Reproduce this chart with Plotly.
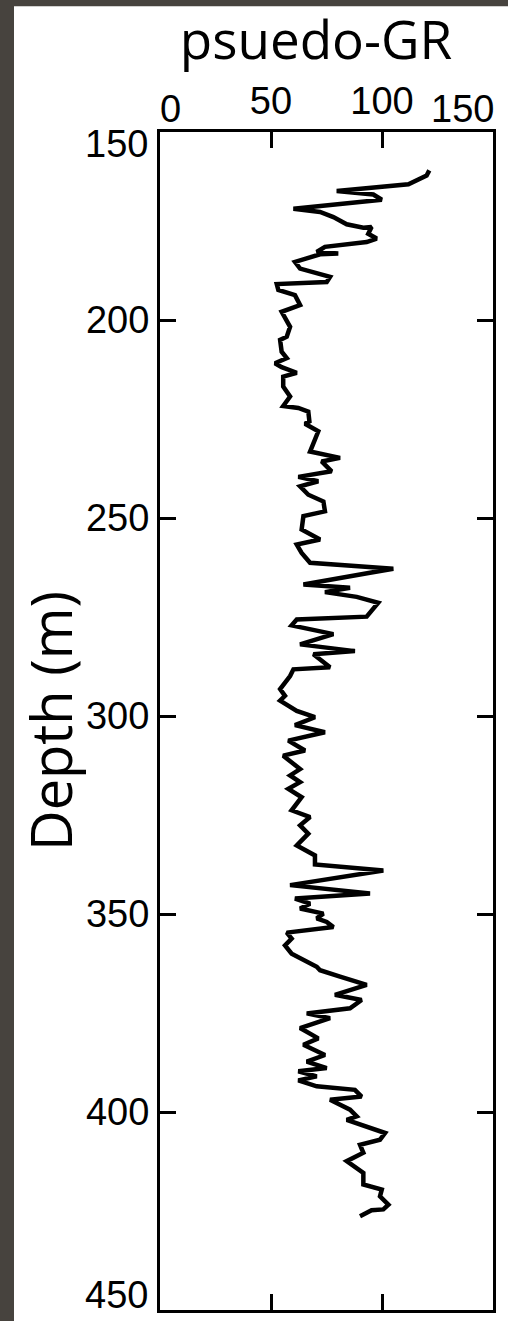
import plotly.graph_objects as go

# ---- data (depth in m, pseudo-GR value) ----
depth = [162.2, 163.5, 165.7, 167.4, 168.3, 169.6, 171.9, 172.7, 174.0, 175.8, 176.7, 176.5,
         178.2, 179.4, 180.3, 181.5, 182.8, 183.2, 183.4, 185.3, 187.0, 189.1, 190.4, 190.9,
         192.4, 193.7, 196.2, 197.9, 201.7, 204.2, 205.0, 208.0, 209.6, 210.9, 211.9, 213.3,
         214.3, 216.8, 219.3, 221.7, 222.2, 223.1, 225.6, 226.2, 228.1, 231.1, 233.2, 234.8,
         235.7, 238.2, 239.6, 240.7, 242.0, 244.1, 245.8, 248.3, 249.5, 252.9,
         255.4, 256.7, 258.8, 261.3, 262.8, 263.8, 266.8, 267.6, 268.7, 269.9, 271.4, 274.9,
         275.6, 277.1, 279.3, 281.9, 283.6, 284.4, 287.7, 288.2, 289.9, 293.2, 294.9, 296.1,
         298.7, 300.3,
         302.3, 304.1, 306.2, 308.7, 310.0, 313.4, 315.0, 316.7, 318.4, 320.5, 323.8, 325.5,
         327.6, 329.7, 332.7, 335.2, 337.5, 339.0, 342.7, 344.8, 346.1, 347.4, 348.6, 349.9,
         351.1,
         352.0, 353.3, 354.7, 356.2, 357.9, 360.0, 363.3, 364.2, 365.8, 367.9, 370.4, 371.7,
         373.8, 375.1, 376.3, 378.8, 381.4, 383.0, 385.6, 387.3, 388.9, 389.7, 391.0, 392.0,
         393.5, 394.4, 396.1, 396.9, 399.4, 401.1,
         402.0, 405.3, 407.0, 408.3, 410.3, 412.4, 415.4, 418.3, 419.6, 421.3, 423.4, 424.6,
         424.8, 426.3]

gr = [121.3, 120.1, 111.9, 79.6, 96.1, 99.9, 60.1, 72.1, 78.1, 84.1, 91.6, 95.3,
      93.8, 97.6, 93.1, 74.3, 70.6, 80.3, 72.1, 60.8, 63.1, 76.6, 75.1, 52.6,
      53.3, 60.8, 63.1, 54.8, 58.6, 57.1, 54.1, 54.8, 57.1, 51.8, 54.8, 61.6,
      55.5, 55.5, 58.6, 55.5, 62.3, 66.8, 67.3, 65.3, 71.3, 69.1, 67.6, 81.1,
      72.8, 77.3, 62.3, 71.3, 63.1, 66.8, 73.6, 74.3, 64.6, 63.8,
      72.1, 61.6, 63.8, 67.6, 105.1, 94.6, 64.6, 85.6, 74.3, 88.6, 98.3, 93.1,
      61.6, 59.3, 78.1, 63.1, 87.8, 69.1, 76.6, 60.1, 58.6, 54.1, 56.3, 54.1,
      61.6, 69.8,
      60.8, 74.3, 57.8, 65.3, 55.5, 63.1, 58.6, 63.1, 57.8, 63.8, 59.3, 67.6,
      63.1, 66.8, 61.6, 69.8, 69.8, 100.6, 58.6, 94.6, 60.8, 67.6, 63.1, 73.6,
      70.6,
      75.1, 78.1, 57.1, 59.3, 56.3, 59.3, 70.6, 72.1, 81.1, 93.1, 78.8, 90.8,
      85.6, 66.1, 76.6, 63.1, 71.3, 64.6, 74.3, 66.1, 75.1, 62.3, 70.6, 62.3,
      70.6, 87.8, 90.8, 76.6, 85.6, 88.6,
      84.1, 101.4, 99.1, 90.1, 91.6, 84.1, 91.6, 91.6, 99.9, 99.1, 102.9, 100.6,
      95.3, 90.1]

x_ticks = [50, 100]
x_edge_labels = ["0", "150"]
y_ticks = [200, 250, 300, 350, 400]
y_edge_labels = ["150", "450"]
x_range = [0, 150]
y_range = [450, 152.5]

W, H = 508, 1321
ML, MR, MT, MB = 160, 15, 132, 8
pw, ph = W - ML - MR, H - MT - MB

fig = go.Figure()
fig.add_trace(go.Scatter(x=gr, y=depth, mode="lines",
                         line=dict(color="black", width=4.5), showlegend=False))

tickfont = dict(family="Liberation Sans, Arial, sans-serif", size=38, color="black")

fig.update_layout(
    width=W, height=H,
    margin=dict(l=ML, r=MR, t=MT, b=MB, pad=0),
    paper_bgcolor="#47433e",
    plot_bgcolor="white",
    title=dict(text="psuedo-GR", x=316 / W, xref="container", xanchor="center",
               y=1 - 40 / H, yref="container", yanchor="middle",
               font=dict(family="Open Sans, sans-serif", size=53, color="black")),
    xaxis=dict(range=x_range, side="top", tickvals=x_ticks,
               ticktext=[str(v) for v in x_ticks],
               ticks="inside", ticklen=16, tickwidth=2.5, tickcolor="black",
               showline=True, linewidth=3, linecolor="black", mirror="ticks",
               showgrid=False, zeroline=False, tickfont=tickfont),
    yaxis=dict(range=y_range, tickvals=y_ticks,
               ticktext=[str(v) for v in y_ticks],
               ticks="inside", ticklen=16, tickwidth=2.5, tickcolor="black",
               showline=True, linewidth=3, linecolor="black", mirror="ticks",
               showgrid=False, zeroline=False, tickfont=tickfont),
    shapes=[dict(type="rect", xref="paper", yref="paper", layer="below",
                 x0=(14 - ML) / pw, x1=1.2,
                 y0=-0.05, y1=(MT + ph - 6) / ph,
                 fillcolor="white", line=dict(width=0))],
)

# edge tick labels (placed at the box corners as in the reference)
fig.add_annotation(text=x_edge_labels[0], x=x_range[0], xref="x", y=1, yref="paper",
                   xanchor="center", yanchor="middle", xshift=10, yshift=23,
                   showarrow=False, font=tickfont)
fig.add_annotation(text=x_edge_labels[1], x=x_range[1], xref="x", y=1, yref="paper",
                   xanchor="center", yanchor="middle", xshift=-31, yshift=23,
                   showarrow=False, font=tickfont)
fig.add_annotation(text=y_edge_labels[0], x=0, xref="paper", y=y_range[1], yref="y",
                   xanchor="right", yanchor="middle", xshift=-10, yshift=-12,
                   showarrow=False, font=tickfont)
fig.add_annotation(text=y_edge_labels[1], x=0, xref="paper", y=y_range[0], yref="y",
                   xanchor="right", yanchor="middle", xshift=-10, yshift=15,
                   showarrow=False, font=tickfont)

# y axis title
fig.add_annotation(text="Depth (m)", x=(50 - ML) / pw, xref="paper", y=0.5, yref="paper",
                   xanchor="center", yanchor="middle", textangle=-90, showarrow=False,
                   font=dict(family="Open Sans, sans-serif", size=56, color="black"))

fig.write_html("out.html")
